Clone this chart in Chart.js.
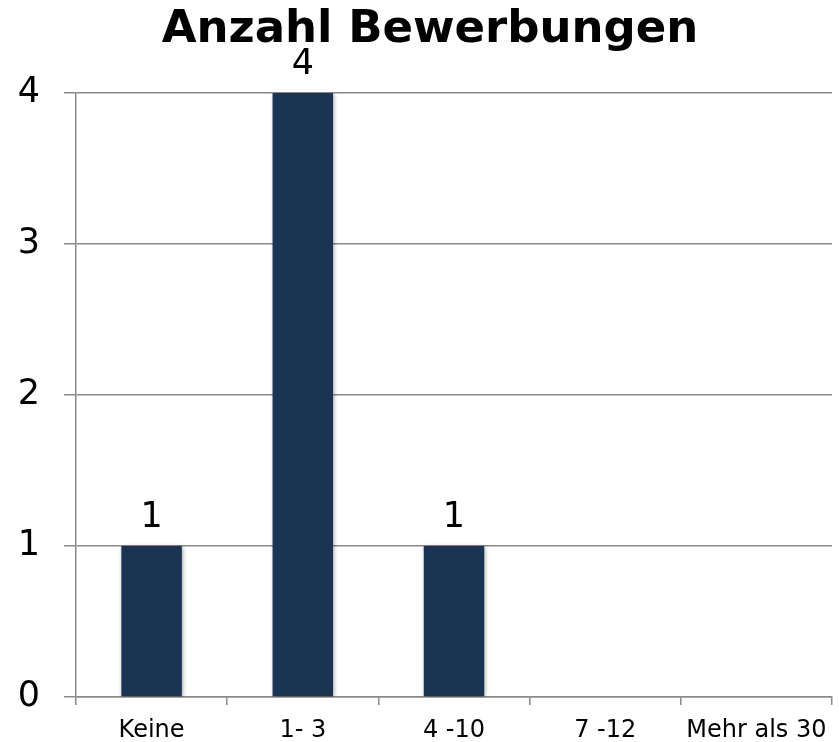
<!DOCTYPE html>
<html lang="de">
<head>
<meta charset="utf-8">
<title>Anzahl Bewerbungen</title>
<script src="https://cdn.jsdelivr.net/npm/chart.js@4.4.1/dist/chart.umd.min.js"></script>
<style>
  html, body { margin: 0; padding: 0; background: #fff; }
  #wrap { width: 839px; height: 742px; position: relative; }
</style>
</head>
<body>
<div id="wrap"><canvas id="chart"></canvas></div>
<script>
"use strict";

const titleText = "Anzahl Bewerbungen";
const categories = ["Keine", "1- 3", "4 -10", "7 -12", "Mehr als 30"];
const counts = [1, 4, 1, 0, 0];
const yTicks = [0, 1, 2, 3, 4];

const barColor = "#1c3454";
const gridColor = "#8a8a8a";
const font = "'DejaVu Sans', Verdana, sans-serif";

// value labels above each bar
const valueLabels = {
  id: "valueLabels",
  afterDatasetsDraw(chart) {
    const ctx = chart.ctx;
    const meta = chart.getDatasetMeta(0);
    ctx.save();
    ctx.font = `35px ${font}`;
    ctx.fillStyle = "#000";
    ctx.textAlign = "center";
    ctx.textBaseline = "alphabetic";
    meta.data.forEach((bar, i) => {
      const v = counts[i];
      if (!v) return;
      ctx.fillText(String(v), bar.x, bar.y - 19);
    });
    ctx.restore();
  },
};

// soft shadow behind the bars
const barShadow = {
  id: "barShadow",
  beforeDatasetsDraw(chart) {
    const ctx = chart.ctx;
    ctx.save();
    ctx.shadowColor = "rgba(0,0,0,0.35)";
    ctx.shadowBlur = 4;
    ctx.shadowOffsetX = 1;
    ctx.shadowOffsetY = 1;
  },
  afterDatasetsDraw(chart) {
    chart.ctx.restore();
  },
};

// title sits a bit right of the canvas centre
const titleShift = {
  id: "titleShift",
  afterLayout(chart) {
    if (chart.titleBlock) chart.titleBlock.left = 28;
  },
};

new Chart(document.getElementById("chart"), {
  type: "bar",
  data: {
    labels: categories,
    datasets: [{
      data: counts,
      backgroundColor: barColor,
      borderWidth: 0,
      barPercentage: 0.4,
      categoryPercentage: 1,
    }],
  },
  options: {
    responsive: true,
    maintainAspectRatio: false,
    animation: false,
    events: [],
    layout: { padding: { top: 0, right: 7, bottom: 0, left: 0 } },
    plugins: {
      legend: { display: false },
      tooltip: { enabled: false },
      title: {
        display: true,
        text: titleText,
        color: "#000",
        font: { family: font, size: 45, weight: "bold", lineHeight: 1.2 },
        padding: { top: 3, bottom: 36 },
      },
    },
    scales: {
      x: {
        afterFit: (s) => { s.height = 44; },
        grid: {
          display: true,
          offset: true,
          drawOnChartArea: false,
          drawTicks: true,
          tickLength: 8,
          color: gridColor,
          lineWidth: 1.5,
        },
        border: { display: true, color: gridColor, width: 1.5 },
        ticks: {
          color: "#000",
          font: { family: font, size: 24 },
          padding: 11,
          maxRotation: 0,
          autoSkip: false,
        },
      },
      y: {
        min: 0,
        max: 4,
        afterFit: (s) => { s.width = 76; },
        afterBuildTicks: (s) => { s.ticks = yTicks.map((v) => ({ value: v })); },
        grid: {
          color: gridColor,
          lineWidth: 1.5,
          drawTicks: true,
          tickLength: 12,
        },
        border: { display: true, color: gridColor, width: 1.5 },
        ticks: {
          color: "#000",
          font: { family: font, size: 35 },
          padding: 24,
        },
      },
    },
  },
  plugins: [titleShift, barShadow, valueLabels],
});
</script>
</body>
</html>
